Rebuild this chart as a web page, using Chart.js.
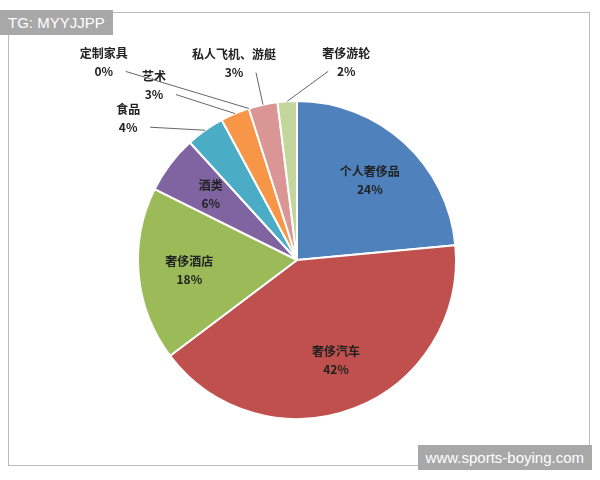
<!DOCTYPE html>
<html>
<head>
<meta charset="utf-8">
<script src="https://cdn.jsdelivr.net/npm/chart.js@4"></script>
<style>
  body { margin: 0; background: #fff; }
  #wrap { position: relative; width: 600px; height: 480px; }
  #frame { position: absolute; left: 8px; top: 12px; width: 582px; height: 454px; border: 1px solid #bbb; box-sizing: border-box; }
  .tag { position: absolute; background: #a8a8a8; color: #fff; font-family: "Liberation Sans", sans-serif; font-size: 15px; padding: 4px 8px; }
</style>
</head>
<body>
<div id="wrap">
  <div id="frame"></div>
  <canvas id="c" width="600" height="480"></canvas>
  <div class="tag" style="left:0;top:10px;">TG: MYYJJPP</div>
  <div class="tag" style="right:8px;bottom:10px;">www.sports-boying.com</div>
</div>
<script>
const categories = ['个人奢侈品', '奢侈汽车', '奢侈酒店', '酒类', '食品', '艺术', '定制家具', '私人飞机、游艇', '奢侈游轮'];
const shares = [24, 42, 18, 6, 4, 3, 0, 3, 2];
const colors = ['#4f81bd', '#c0504d', '#9bbb59', '#8064a2', '#4bacc6', '#f79646', '#c3d69b', '#d99694', '#c3d69b'];
// label placement: null = inside, otherwise offset from arc edge
const outside = [null, null, null, null, [-77, -11], [-81, -27], [-145, -45], [-29, -40], [59, -38]];

const labelPlugin = {
    id: 'labels',
    afterDatasetsDraw(chart) {
        const ctx = chart.ctx;
        const meta = chart.getDatasetMeta(0);
        ctx.save();
        ctx.font = 'bold 12px "Noto Sans CJK SC", sans-serif';
        ctx.textAlign = 'center';
        ctx.textBaseline = 'middle';
        meta.data.forEach((arc, i) => {
            const p = arc.getProps(['x', 'y', 'startAngle', 'endAngle', 'outerRadius']);
            const mid = (p.startAngle + p.endAngle) / 2;
            const text = [categories[i], shares[i] + '%'];
            if (!outside[i]) {
                const r = p.outerRadius * 0.68;
                const x = p.x + Math.cos(mid) * r, y = p.y + Math.sin(mid) * r;
                ctx.fillStyle = '#222';
                ctx.fillText(text[0], x, y - 9);
                ctx.fillText(text[1], x, y + 9);
            } else {
                const ex = p.x + Math.cos(mid) * p.outerRadius;
                const ey = p.y + Math.sin(mid) * p.outerRadius;
                const lx = ex + outside[i][0], ly = ey + outside[i][1];
                ctx.strokeStyle = '#666';
                ctx.lineWidth = 1;
                ctx.beginPath();
                ctx.moveTo(ex, ey);
                ctx.lineTo(lx + (outside[i][0] < 0 ? 22 : -18), ly + 8);
                ctx.stroke();
                ctx.fillStyle = '#222';
                ctx.fillText(text[0], lx, ly - 10);
                ctx.fillText(text[1], lx, ly + 8);
            }
        });
        ctx.restore();
    }
};

new Chart(document.getElementById('c').getContext('2d'), {
    type: 'pie',
    data: {
        labels: categories,
        datasets: [{
            data: shares,
            backgroundColor: colors,
            borderColor: '#fff',
            borderWidth: 2
        }]
    },
    options: {
        responsive: false,
        animation: false,
        layout: { padding: { left: 137, right: 143, top: 100, bottom: 60 } },
        plugins: { legend: { display: false }, tooltip: { enabled: false } }
    },
    plugins: [labelPlugin]
});
</script>
</body>
</html>
